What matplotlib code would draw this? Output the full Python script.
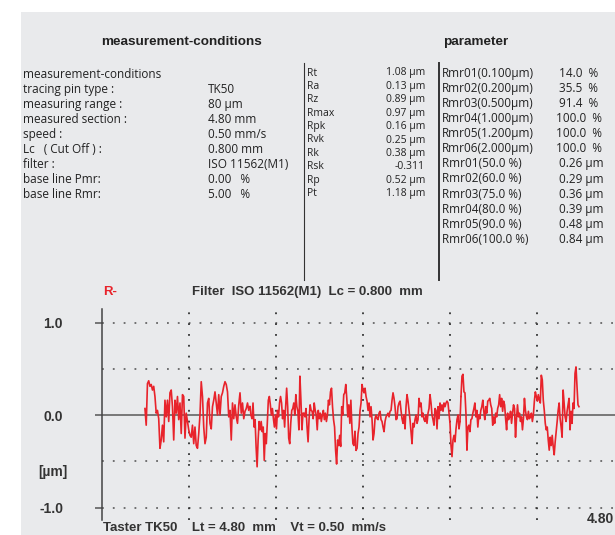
import numpy as np
import matplotlib
matplotlib.use("Agg")
from matplotlib import pyplot as plt
from matplotlib.patches import Rectangle

# measurement conditions (left table)
cond_labels = ["measurement-conditions", "tracing pin type :", "measuring range :",
               "measured section :", "speed :", "Lc   ( Cut Off ) :", "filter :",
               "base line Pmr:", "base line Rmr:"]
cond_values = ["", "TK50", "80 µm", "4.80 mm", "0.50 mm/s", "0.800 mm",
               "ISO 11562(M1)", "0.00   %", "5.00   %"]

# roughness parameters
param_names = ["Rt", "Ra", "Rz", "Rmax", "Rpk", "Rvk", "Rk", "Rsk", "Rp", "Pt"]
param_values = ["1.08 µm", "0.13 µm", "0.89 µm", "0.97 µm", "0.16 µm",
                "0.25 µm", "0.38 µm", "-0.311", "0.52 µm", "1.18 µm"]

rmr_names = ["Rmr01(0.100µm)", "Rmr02(0.200µm)", "Rmr03(0.500µm)", "Rmr04(1.000µm)",
             "Rmr05(1.200µm)", "Rmr06(2.000µm)", "Rmr01(50.0 %)", "Rmr02(60.0 %)",
             "Rmr03(75.0 %)", "Rmr04(80.0 %)", "Rmr05(90.0 %)", "Rmr06(100.0 %)"]
rmr_values = [" 14.0  %", " 35.5  %", " 91.4  %", "100.0  %", "100.0  %", "100.0  %",
              " 0.26 µm", " 0.29 µm", " 0.36 µm", " 0.39 µm", " 0.48 µm", " 0.84 µm"]

# R-profile (µm) in four stretches; bounds in mm
seg_bounds = [(0.395, 1.361), (1.370, 2.326), (2.336, 3.292), (3.301, 4.386)]
seg1 = [0.07, -0.11, 0.34, 0.37, 0.31, 0.33, 0.27, 0.31, 0.20, 0.02,
        0.05, -0.04, -0.36, -0.27, -0.11, -0.29, 0.16, -0.02, 0.16, -0.07,
        0.24, 0.27, 0.09, -0.27, 0.16, 0.02, 0.20, -0.05, 0.13, -0.20,
        0.22, 0.20, -0.25, 0.02, -0.07, -0.16, -0.22, -0.24, -0.11, -0.31,
        -0.13, -0.33, -0.36, -0.20, 0.00, 0.36, 0.20, -0.13, -0.31, -0.24,
        0.13, 0.18, -0.09, -0.15, 0.09, 0.16, 0.25, 0.13, 0.00, 0.22,
        0.00, 0.20, 0.24, 0.31, 0.36, 0.33, 0.25, -0.02, 0.05, -0.27,
        0.13, -0.04, 0.11, -0.02, -0.09, 0.11, 0.24, 0.02, 0.13, -0.04,
        0.04, 0.07, 0.13, 0.05, 0.09]
seg2 = [0.00, -0.04, 0.13, -0.13, -0.05, -0.34, -0.56, -0.27, -0.07, -0.16,
        -0.07, -0.18, -0.13, -0.49, -0.20, -0.31, -0.09, 0.16, 0.20, 0.11,
        0.00, 0.07, -0.04, -0.13, 0.00, -0.15, 0.05, -0.02, 0.13, 0.20,
        0.13, -0.04, 0.05, -0.13, 0.09, 0.29, 0.09, -0.25, -0.31, -0.09,
        0.05, 0.07, 0.13, 0.00, 0.22, 0.09, 0.04, -0.16, 0.42, 0.16,
        -0.16, 0.02, 0.02, -0.02, 0.07, -0.13, -0.29, -0.04, 0.11, 0.05,
        0.04, -0.04, 0.13, 0.05, 0.00, -0.16, 0.05, -0.04, 0.02, -0.07,
        0.00, 0.05, -0.05, 0.02, -0.07, 0.00, 0.16, 0.11, 0.25, 0.29,
        0.09, -0.05, -0.13, -0.38, -0.53, -0.27, -0.33, -0.22, -0.34, 0.09,
        0.00, 0.22, 0.24, 0.33, 0.18, -0.02, 0.11, -0.09, 0.16, -0.13,
        -0.31, -0.33, -0.18]
seg3 = [-0.38, -0.36, -0.20, -0.13, 0.05, 0.13, 0.33, 0.27, 0.24, 0.29,
        0.20, 0.15, 0.05, 0.13, -0.02, 0.09, -0.05, -0.27, -0.20, -0.04,
        0.00, -0.04, -0.05, 0.02, 0.04, -0.05, -0.07, -0.13, -0.18, -0.07,
        -0.02, 0.00, 0.02, -0.02, 0.04, 0.05, 0.16, 0.24, 0.18, 0.09,
        -0.05, -0.04, 0.09, 0.13, 0.15, 0.05, -0.04, -0.09, 0.00, -0.15,
        0.09, 0.22, 0.15, 0.05, -0.05, -0.18, -0.31, -0.09, -0.13, -0.05,
        0.00, -0.09, -0.05, 0.18, 0.09, 0.13, -0.02, 0.02, -0.05, -0.07,
        0.00, -0.09, 0.02, 0.07, 0.22, 0.13, 0.00, -0.05, -0.11, 0.07,
        0.05, -0.15, 0.09, -0.04, 0.13, 0.05, 0.11, 0.04, 0.13, 0.09,
        0.13, 0.15, 0.13, 0.02, -0.09, -0.33, -0.45, -0.27, -0.22, -0.29,
        -0.15, -0.05, 0.00, -0.15, -0.07]
seg4 = [0.20, 0.42, 0.44, 0.25, 0.24, 0.02, -0.38, -0.13, -0.11, -0.18,
        -0.05, -0.04, 0.02, 0.07, 0.13, -0.02, 0.05, -0.13, 0.00, -0.04,
        0.05, 0.09, 0.16, 0.04, -0.05, 0.09, 0.02, 0.15, 0.16, 0.18,
        0.11, 0.07, -0.11, -0.02, -0.09, 0.02, -0.02, 0.07, 0.11, 0.22,
        0.09, 0.18, 0.04, 0.15, 0.11, -0.04, -0.16, 0.02, -0.05, -0.02,
        0.04, -0.09, 0.02, 0.11, 0.07, -0.24, -0.04, 0.11, -0.02, 0.02,
        -0.07, -0.02, -0.16, -0.04, 0.18, 0.05, -0.02, -0.05, 0.04, -0.04,
        -0.02, 0.02, -0.07, 0.00, 0.15, 0.25, 0.20, 0.15, 0.22, 0.16,
        0.13, 0.43, 0.38, 0.16, 0.05, -0.09, -0.16, -0.13, -0.27, -0.38,
        -0.24, -0.33, -0.22, -0.34, -0.43, -0.29, -0.18, -0.07, 0.05, 0.13,
        -0.04, -0.13, -0.24, 0.27, 0.13, -0.02, -0.07, 0.04, 0.11, 0.18,
        -0.16, 0.04, -0.09, 0.13, 0.07, 0.45, 0.52, 0.31, 0.11, 0.09]

lt_mm = 4.80
lc_mm = 0.800
yticks = [-1.0, 0.0, 1.0]
ygrid = [-1.0, -0.5, 0.5, 1.0]

W, H = 615, 535
BG = "#e9eaec"
TXT = "#222222"
RED = "#e8232b"
TABLE_FONT = ["Open Sans", "DejaVu Sans"]
HEAD_FONT = ["Liberation Sans", "DejaVu Sans"]


def px(x, y):
    return x / W, 1 - y / H


fig = plt.figure(figsize=(W / 100, H / 100), dpi=100)
fig.patch.set_facecolor("white")
fig.patches.append(Rectangle(px(21, H), 1, (H - 12) / H, transform=fig.transFigure,
                             facecolor=BG, edgecolor="none", zorder=-5))

# headers
fig.text(*px(182, 42), "measurement-conditions", ha="center", va="center",
         fontsize=9.7, fontweight="bold", family=HEAD_FONT, color=TXT)
fig.text(*px(476, 42), "parameter", ha="center", va="center",
         fontsize=9.7, fontweight="bold", family=HEAD_FONT, color=TXT)

for i, (lab, val) in enumerate(zip(cond_labels, cond_values)):
    y = 74 + i * 15.1
    fig.text(*px(23, y), lab, ha="left", va="center", fontsize=8.5,
             family=TABLE_FONT, color=TXT)
    fig.text(*px(208, y), val, ha="left", va="center", fontsize=8.5,
             family=TABLE_FONT, color=TXT)

for i, (lab, val) in enumerate(zip(param_names, param_values)):
    y = 73 + i * 13.4
    fig.text(*px(307, y), lab, ha="left", va="center", fontsize=7.5,
             family=TABLE_FONT, color=TXT)
    fig.text(*px(425, y), val, ha="right", va="center", fontsize=7.5,
             family=TABLE_FONT, color=TXT)

for i, (lab, val) in enumerate(zip(rmr_names, rmr_values)):
    y = 73.3 + i * 15.1
    fig.text(*px(442, y), lab, ha="left", va="center", fontsize=8.5,
             family=TABLE_FONT, color=TXT)
    fig.text(*px(556, y), val, ha="left", va="center", fontsize=8.5,
             family=TABLE_FONT, color=TXT)

# separators
for x, lw in [(304, 0.8), (439, 1.4)]:
    fig.add_artist(plt.Line2D([x / W, x / W], [1 - 63 / H, 1 - 280 / H],
                              transform=fig.transFigure, color="#333333", lw=lw))

# profile chart
ax = fig.add_axes([102 / W, 15 / H, 522 / W, 211 / H])
ax.set_facecolor("none")
ax.set_xlim(0, lt_mm)
ax.set_ylim(-1.135, 1.146)

for s in ["top", "right", "bottom"]:
    ax.spines[s].set_visible(False)
ax.spines["left"].set_color("#444444")
ax.spines["left"].set_linewidth(1.1)

ax.set_xticks([])
ax.set_yticks(yticks)
ax.set_yticklabels([f"{v:.1f}" for v in yticks], fontsize=10, fontweight="bold",
                   family=HEAD_FONT, color="#333333")
ax.tick_params(axis="y", length=5, width=1.1, color="#555555", pad=23)

for g in ygrid:
    ax.axhline(g, color="#666666", lw=1.3, ls=(0, (1, 5)), zorder=1)
for g in np.arange(lc_mm, lt_mm, lc_mm):
    ax.axvline(g, color="#333333", lw=1.3, ls=(0, (1, 5)), zorder=1)
ax.axhline(0, color="#777777", lw=1.4, zorder=2)

for (a, b), seg in zip(seg_bounds, [seg1, seg2, seg3, seg4]):
    xs = np.linspace(a, b, len(seg))
    ax.plot(xs, seg, color=RED, lw=1.2, zorder=3)
# join the stretches
for (a0, b0), (a1, b1), s0, s1 in zip(seg_bounds[:-1], seg_bounds[1:],
                                      [seg1, seg2, seg3], [seg2, seg3, seg4]):
    ax.plot([b0, a1], [s0[-1], s1[0]], color=RED, lw=1.2, zorder=3)

ax.text(4.71, -1.12, f"{lt_mm:.2f}", ha="right", va="center",
        fontsize=10, fontweight="bold", family=HEAD_FONT, color="#333333",
        clip_on=False)

fig.text(*px(53, 472), "[µm]", ha="center", va="center", fontsize=10,
         fontweight="bold", family=HEAD_FONT, color="#333333")
fig.text(*px(103, 292), "R-", ha="left", va="center", fontsize=9.5,
         fontweight="bold", family=HEAD_FONT, color=RED)
fig.text(*px(192, 292), f"Filter  ISO 11562(M1)  Lc = {lc_mm:.3f}  mm", ha="left",
         va="center", fontsize=9.5, fontweight="bold", family=HEAD_FONT,
         color="#333333")
fig.text(*px(103, 528), f"Taster TK50    Lt = {lt_mm:.2f}  mm    Vt = 0.50  mm/s",
         ha="left", va="center", fontsize=9.5, fontweight="bold", family=HEAD_FONT,
         color="#333333")

fig.savefig("out.png", dpi=100)
